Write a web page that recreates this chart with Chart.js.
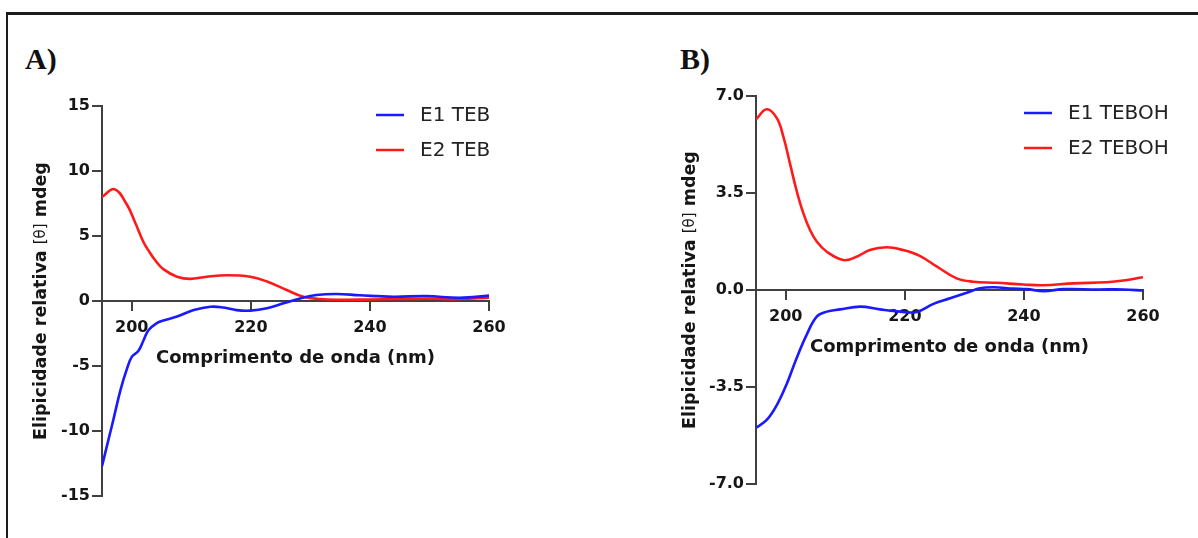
<!DOCTYPE html>
<html>
<head>
<meta charset="utf-8">
<script src="https://cdn.jsdelivr.net/npm/chart.js@4.4.1/dist/chart.umd.min.js"></script>
<style>
  html, body { margin: 0; padding: 0; background: #fff; }
  #page { position: relative; width: 1198px; height: 538px; overflow: hidden; }
  .frame { position: absolute; left: 6px; top: 12px; width: 1200px; height: 540px;
           border-top: 3px solid #1c1c1c; border-left: 2px solid #1c1c1c; }
  .tag { position: absolute; font: bold 30px "Liberation Serif", serif; line-height: 30px; color: #111; }
  canvas { position: absolute; top: 0; }
</style>
</head>
<body>
<div id="page">
  <div class="frame"></div>
  <div class="tag" style="left:25px; top:44px">A)</div>
  <div class="tag" style="left:680px; top:44px">B)</div>
  <canvas id="chartA" width="599" height="538" style="left:0"></canvas>
  <canvas id="chartB" width="599" height="538" style="left:599px"></canvas>
</div>
<script>
// wavelength (nm) / ellipticity (mdeg) read per curve
const nmA1 = [195, 195.8, 196.9, 198.1, 199.2, 200, 201.1, 202, 202.8, 204.2, 205.3, 207.6, 210.4, 213.2, 215.4, 217.6, 219.9, 222.7, 225.5, 228.3, 231, 234.4, 238.3, 243.9, 249.5, 255.1, 260];
const e1TEB = [-12.7, -11.2, -9.15, -6.85, -5.2, -4.3, -3.85, -3.0, -2.25, -1.7, -1.5, -1.2, -0.7, -0.44, -0.5, -0.7, -0.74, -0.56, -0.18, 0.2, 0.46, 0.54, 0.44, 0.33, 0.38, 0.25, 0.41];

const nmA2 = [195, 197.1, 199.2, 200.6, 202, 203, 204, 205.3, 207.6, 209.8, 212.6, 216, 219.9, 222.7, 226, 228.8, 231.6, 235, 240, 245, 250, 255, 260];
const e2TEB = [8.0, 8.6, 7.4, 6.0, 4.5, 3.75, 3.1, 2.45, 1.87, 1.7, 1.87, 1.98, 1.87, 1.5, 0.85, 0.33, 0.15, 0.1, 0.12, 0.15, 0.18, 0.15, 0.25];

const nmB1 = [195, 196.8, 198.5, 200.2, 201.8, 203.5, 205.2, 206.9, 209.1, 212.5, 215.8, 219.2, 222, 224.8, 227.6, 230.4, 232.6, 234.9, 238.2, 240.5, 243.3, 246.7, 252.3, 256.7, 260];
const e1TEBOH = [-4.97, -4.69, -4.15, -3.37, -2.47, -1.62, -0.96, -0.78, -0.7, -0.6, -0.7, -0.78, -0.79, -0.5, -0.3, -0.1, 0.06, 0.1, 0.05, 0.03, -0.04, 0.03, 0.02, 0.02, -0.02];

const nmB2 = [195, 196.8, 198.5, 199.6, 200.7, 201.8, 202.9, 204, 205.2, 206.9, 209.7, 211.9, 214.1, 216.9, 219.7, 222.5, 225.4, 228.7, 231.5, 235.4, 239.9, 243.3, 248.3, 253.9, 256.7, 260];
const e2TEBOH = [6.16, 6.52, 6.2, 5.53, 4.57, 3.6, 2.8, 2.2, 1.75, 1.38, 1.08, 1.2, 1.44, 1.54, 1.44, 1.23, 0.84, 0.42, 0.3, 0.26, 0.2, 0.17, 0.24, 0.28, 0.34, 0.46];

const xTicks = [200, 220, 240, 260];
const yTicksA = [-15, -10, -5, 0, 5, 10, 15];
const yLabelsA = ['-15', '-10', '-5', '0', '5', '10', '15'];
const yTicksB = [-7, -3.5, 0, 3.5, 7];
const yLabelsB = ['-7.0', '-3.5', '0.0', '3.5', '7.0'];

const xTitle = 'Comprimento de onda (nm)';
const yTitle = [['Elipicidade relativa ', true], ['[θ]', false], [' mdeg', true]];

const BLUE = '#1a1aff', RED = '#ff1a1a', AXIS = '#404040', INK = '#161616';
const FONT = '"DejaVu Sans", sans-serif';

const pts = (xs, ys) => xs.map((x, i) => ({x, y: ys[i]}));

// legend + axis titles drawn by hand so they sit where the panel wants them
const decor = {
  id: 'decor',
  afterDraw(chart, args, o) {
    const {ctx, chartArea: a, scales: {y}} = chart;
    ctx.save();
    chart.data.datasets.forEach((ds, i) => {
      const ly = o.legendY + i * 35;
      ctx.strokeStyle = ds.borderColor;
      ctx.lineWidth = 2.5;
      ctx.beginPath();
      ctx.moveTo(o.legendX, ly);
      ctx.lineTo(o.legendX + 28, ly);
      ctx.stroke();
      ctx.fillStyle = '#222';
      ctx.font = '20px ' + FONT;
      ctx.textAlign = 'left';
      ctx.textBaseline = 'middle';
      ctx.fillText(ds.label, o.legendX + 44, ly + 1);
    });

    ctx.fillStyle = INK;
    ctx.font = 'bold 18px ' + FONT;
    ctx.textAlign = 'center';
    ctx.fillText(xTitle, (a.left + a.right) / 2, y.getPixelForValue(0) + 57);

    // rotated y title, the symbol part set lighter and smaller
    const fonts = yTitle.map(([, b]) => (b ? 'bold 17.5px ' : '15px ') + FONT);
    let total = 0;
    const widths = yTitle.map(([t], i) => { ctx.font = fonts[i]; const w = ctx.measureText(t).width; total += w; return w; });
    ctx.translate(o.titleX, (a.top + a.bottom) / 2);
    ctx.rotate(-Math.PI / 2);
    ctx.textAlign = 'left';
    let cx = -total / 2;
    yTitle.forEach(([t], i) => {
      ctx.font = fonts[i];
      ctx.fillText(t, cx, 0);
      cx += widths[i];
    });
    ctx.restore();
  }
};

function panel(id, sets, yTicks, yLabels, pad, deco) {
  return new Chart(document.getElementById(id), {
    type: 'line',
    data: {
      datasets: sets.map(([label, xs, ys, color]) => ({
        label, data: pts(xs, ys), borderColor: color, borderWidth: 2.6,
        pointRadius: 0, tension: 0.4, fill: false
      }))
    },
    options: {
      responsive: false,
      animation: false,
      events: [],
      layout: { padding: pad },
      plugins: { legend: { display: false }, tooltip: { enabled: false }, decor: deco },
      scales: {
        x: {
          type: 'linear', min: 195, max: 260,
          position: { y: 0 },
          afterBuildTicks: s => { s.ticks = xTicks.map(v => ({value: v})); },
          border: { display: true, color: AXIS, width: 2 },
          grid: { drawOnChartArea: false, drawTicks: true, tickLength: 9, color: AXIS, lineWidth: 2 },
          ticks: { color: INK, font: { family: FONT, size: 16, weight: 'bold' }, padding: 8, maxRotation: 0 }
        },
        y: {
          type: 'linear', min: yTicks[0], max: yTicks[yTicks.length - 1],
          position: 'left',
          afterBuildTicks: s => { s.ticks = yTicks.map(v => ({value: v})); },
          afterFit: s => { s.width = 64; },
          border: { display: true, color: AXIS, width: 2 },
          grid: { drawOnChartArea: false, drawTicks: true, tickLength: 10, color: AXIS, lineWidth: 2 },
          ticks: {
            color: INK, font: { family: FONT, size: 16, weight: 'bold' }, padding: 2,
            callback: v => yLabels[yTicks.indexOf(v)]
          }
        }
      }
    },
    plugins: [decor]
  });
}

panel('chartA',
  [['E1 TEB', nmA1, e1TEB, BLUE], ['E2 TEB', nmA2, e2TEB, RED]],
  yTicksA, yLabelsA,
  { left: 38, right: 110, top: 106, bottom: 42 },
  { legendX: 376, legendY: 115, titleX: 41 });

panel('chartB',
  [['E1 TEBOH', nmB1, e1TEBOH, BLUE], ['E2 TEBOH', nmB2, e2TEBOH, RED]],
  yTicksB, yLabelsB,
  { left: 93, right: 55, top: 96, bottom: 54 },
  { legendX: 425, legendY: 113, titleX: 91 });
</script>
</body>
</html>
